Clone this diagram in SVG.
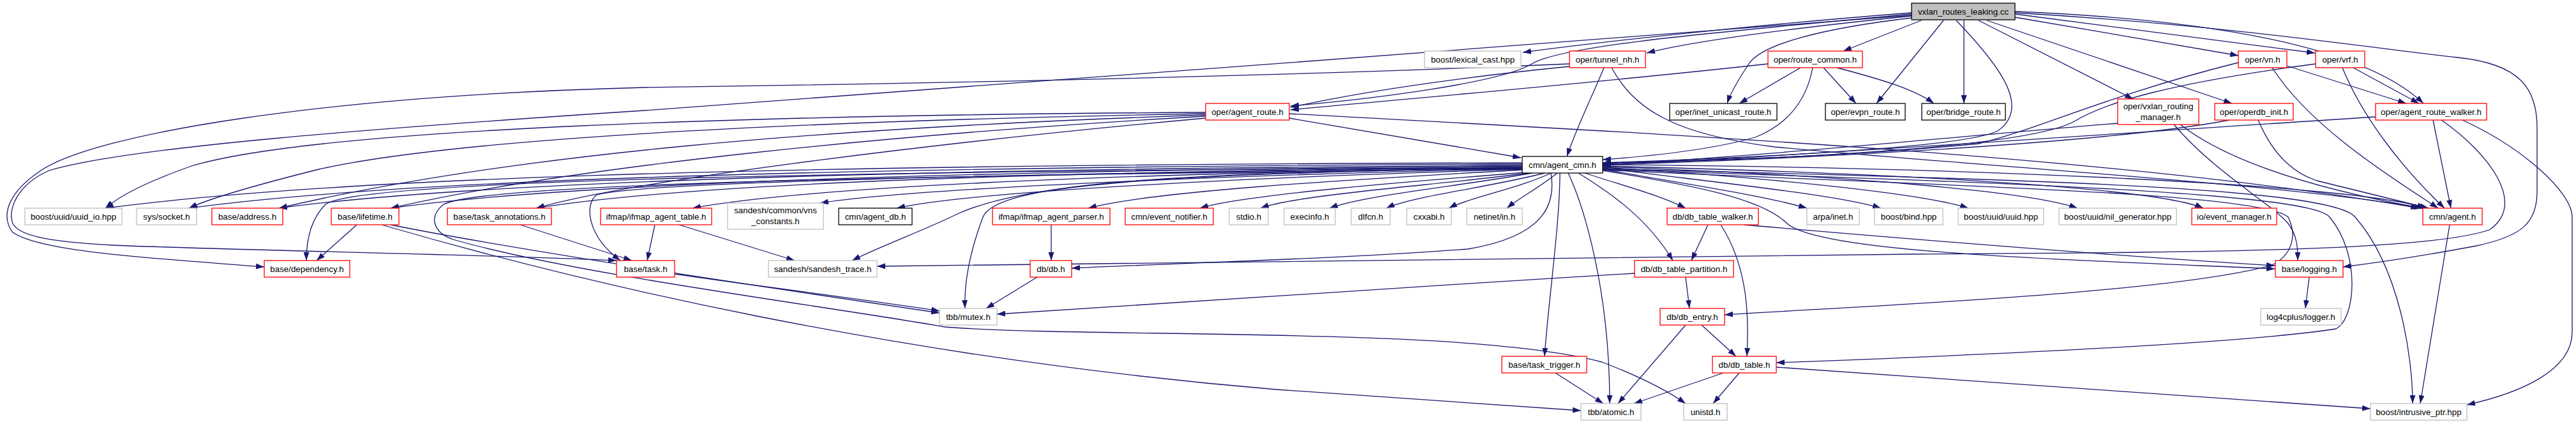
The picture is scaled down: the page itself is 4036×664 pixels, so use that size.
<svg xmlns="http://www.w3.org/2000/svg" width="4036" height="664" viewBox="0 0 4036 664">
<style>
rect{fill:#fff;stroke-width:1.3}
.r{stroke:#ff0000}
.g{stroke:#bfbfbf}
.b{stroke:#000}
.m{fill:#bfbfbf;stroke:#000}
text{font-family:"Liberation Sans",Arial,Helvetica,sans-serif;font-size:13.33px;text-anchor:middle;fill:#000}
#edges path{fill:none;stroke:#191970;stroke-width:1.3;marker-end:url(#a)}
</style>
<defs>
<marker id="a" viewBox="0 0 13 9" refX="13" refY="4.5" markerWidth="13" markerHeight="9" markerUnits="userSpaceOnUse" orient="auto"><path d="M0,0L13,4.5L0,9z" fill="#191970"/></marker>
</defs>
<g id="edges">
<path d="M2995,20 C2800,35 2550,60 2386,82"/>
<path d="M2995,22 C2700,50 2450,70 2400,100 C2350,130 2150,155 2022,166"/>
<path d="M2995,25 C2800,45 2650,65 2580,83"/>
<path d="M2995,28 C2850,45 2760,70 2740,100 C2720,130 2710,150 2706,162"/>
<path d="M3010,32 L2888,80"/>
<path d="M3045,32 L2940,162"/>
<path d="M3077,32 L3077,162"/>
<path d="M3065,32 C3140,110 3180,170 3130,205 C3080,230 2800,245 2511,255"/>
<path d="M3100,32 L3342,155"/>
<path d="M3113,32 L3497,162"/>
<path d="M3157,27 L3507,87"/>
<path d="M3157,22 L3627,83"/>
<path d="M3157,18 C3450,30 3700,70 3797,162"/>
<path d="M3157,20 C3500,40 3750,80 3850,90 C3950,100 3975,140 3975,200 L3975,300 C3975,350 3950,370 3880,385 C3800,400 3720,412 3671,418"/>
<path d="M2995,24 C2400,70 1600,130 1010,173 C600,200 200,230 77,267 C25,290 12,330 20,350 C30,370 80,380 200,385 C500,395 800,400 966,408"/>
<path d="M2459,100 C2000,120 1500,130 1010,137 C500,150 150,210 64,267 C15,300 0,335 19,363 C60,395 250,405 414,418"/>
<path d="M2459,104 C2300,120 2150,140 2022,168"/>
<path d="M2513,106 C2495,150 2470,200 2455,245"/>
<path d="M2525,106 C2560,170 2620,210 2780,230 C3100,260 3600,290 3795,326"/>
<path d="M2770,100 C2500,130 2200,155 2022,172"/>
<path d="M2821,106 L2725,162"/>
<path d="M2857,106 L2908,162"/>
<path d="M2878,106 C2950,125 3000,140 3030,162"/>
<path d="M2840,106 C2830,160 2800,195 2750,215 C2680,235 2580,245 2511,250"/>
<path d="M3507,98 C3300,150 3200,200 3100,225 C2900,245 2700,250 2511,255"/>
<path d="M3560,106 C3620,200 3750,280 3820,326"/>
<path d="M3583,103 L3770,162"/>
<path d="M3628,100 C3400,130 3300,160 3250,190 C3180,230 2800,250 2511,256"/>
<path d="M3670,106 C3700,180 3760,260 3830,326"/>
<path d="M3687,106 L3790,162"/>
<path d="M2020,185 L2383,247"/>
<path d="M2020,178 C2500,205 3300,240 3790,326"/>
<path d="M1889,176 C1200,180 500,200 300,260 C230,285 190,305 165,326"/>
<path d="M1889,178 C1200,190 700,220 500,265 C400,290 330,310 296,326"/>
<path d="M1889,180 C1300,200 800,240 437,326"/>
<path d="M1889,182 C1400,210 900,260 612,326"/>
<path d="M1889,185 C1500,220 1000,280 840,326"/>
<path d="M3318,193 C3000,220 2700,250 2511,257"/>
<path d="M3416,195 C3500,260 3650,300 3795,326"/>
<path d="M3406,195 C3470,270 3560,320 3585,350 C3600,370 3600,390 3600,408"/>
<path d="M3493,188 C3300,225 2800,250 2511,258"/>
<path d="M3538,188 C3560,240 3590,270 3630,283 C3700,300 3760,315 3805,326"/>
<path d="M3722,183 C3300,210 2800,245 2511,259"/>
<path d="M3812,188 L3840,326"/>
<path d="M3825,188 C3900,240 3960,320 3900,360 C3800,395 3400,395 3000,398 C2400,402 1800,410 1374,417"/>
<path d="M3858,188 C3950,230 4030,300 4030,340 L4030,520 C4030,580 3950,615 3865,634"/>
<path d="M2385,255 C1100,258 500,282 165,326"/>
<path d="M2385,257 C1200,262 600,285 296,326"/>
<path d="M2385,259 C1300,265 700,290 437,326"/>
<path d="M2385,260 C1400,268 850,292 612,326"/>
<path d="M2385,262 C1500,270 1050,292 840,326"/>
<path d="M2385,263 C1700,272 1250,295 1085,326"/>
<path d="M2385,264 C1900,275 1420,296 1285,318"/>
<path d="M2385,265 C1950,278 1520,300 1405,326"/>
<path d="M2385,266 C2100,282 1800,300 1705,326"/>
<path d="M2390,270 C2200,285 1950,305 1880,326"/>
<path d="M2395,271 C2250,290 2030,305 1975,326"/>
<path d="M2400,271 C2300,290 2140,305 2083,326"/>
<path d="M2420,271 C2340,292 2210,308 2172,326"/>
<path d="M2430,271 C2380,295 2300,310 2270,326"/>
<path d="M2440,271 C2410,295 2380,310 2361,326"/>
<path d="M2483,271 C2540,290 2600,305 2641,326"/>
<path d="M2511,265 C2620,285 2760,305 2831,326"/>
<path d="M2511,263 C2680,285 2880,305 2947,326"/>
<path d="M2511,262 C2800,280 3020,305 3084,326"/>
<path d="M2511,261 C2900,275 3180,300 3255,326"/>
<path d="M2511,260 C3000,272 3380,295 3452,326"/>
<path d="M2511,258 C3100,262 3700,290 3800,326"/>
<path d="M2385,262 C1400,268 560,280 510,320 C490,340 480,370 480,408"/>
<path d="M2385,262 C1600,272 1000,285 935,305 C915,320 920,370 972,408"/>
<path d="M2385,264 C1800,270 1560,290 1540,340 C1525,380 1510,430 1512,483"/>
<path d="M2385,263 C1800,272 1600,290 1500,335 C1450,360 1380,385 1335,408"/>
<path d="M2385,264 C1500,275 760,285 695,320 C670,340 680,365 710,375 C900,430 1300,480 1480,512 C1700,530 2300,510 2510,567 C2570,590 2610,610 2641,632"/>
<path d="M2430,271 C2438,320 2420,370 2300,390 C2100,405 1900,410 1679,420"/>
<path d="M2444,271 C2444,350 2425,480 2420,558"/>
<path d="M2457,271 C2480,320 2522,450 2522,632"/>
<path d="M2473,271 C2520,300 2580,340 2621,408"/>
<path d="M2511,266 C3000,290 3540,300 3585,340 C3600,370 3590,400 3560,415 C3400,460 2900,480 2702,493"/>
<path d="M2511,265 C3100,285 3620,300 3650,340 C3700,400 3690,500 3660,515 C3500,540 3000,560 2783,568"/>
<path d="M2511,264 C3100,280 3650,290 3690,340 C3760,420 3780,560 3780,632"/>
<path d="M2511,267 C2650,290 2760,310 2800,350 C2850,395 3200,405 3564,421"/>
<path d="M2676,352 L2650,408"/>
<path d="M2696,352 C2740,420 2740,500 2737,558"/>
<path d="M2732,352 C3000,375 3300,400 3564,416"/>
<path d="M2641,434 L2647,483"/>
<path d="M2561,428 C2200,450 1800,475 1562,492"/>
<path d="M2641,509 L2535,632"/>
<path d="M2666,509 L2720,558"/>
<path d="M2700,584 L2560,632"/>
<path d="M2725,584 L2684,632"/>
<path d="M2783,575 C3100,595 3400,620 3714,640"/>
<path d="M2437,584 L2512,632"/>
<path d="M3618,434 L3612,483"/>
<path d="M3838,352 L3792,632"/>
<path d="M559,352 L496,408"/>
<path d="M612,352 C800,390 1200,450 1472,490"/>
<path d="M598,352 C900,440 1400,560 2000,610 C2200,625 2350,635 2477,643"/>
<path d="M815,352 L990,408"/>
<path d="M1026,352 L1014,408"/>
<path d="M1064,352 L1245,408"/>
<path d="M1057,429 C1200,450 1400,475 1472,487"/>
<path d="M1647,352 L1647,408"/>
<path d="M1625,434 L1545,483"/>
</g>
<g id="n-vxlan_routes_leaking"><rect class="m" x="2995" y="5" width="162" height="26"/><text x="3076" y="22.5">vxlan_routes_leaking.cc</text></g>
<g id="n-lexical_cast"><rect class="g" x="2232" y="80" width="151" height="26"/><text x="2307.5" y="97.5">boost/lexical_cast.hpp</text></g>
<g id="n-tunnel_nh"><rect class="r" x="2459" y="80" width="119" height="26"/><text x="2518.5" y="97.5">oper/tunnel_nh.h</text></g>
<g id="n-route_common"><rect class="r" x="2770" y="80" width="148" height="26"/><text x="2844" y="97.5">oper/route_common.h</text></g>
<g id="n-vn"><rect class="r" x="3507" y="80" width="76" height="26"/><text x="3545" y="97.5">oper/vn.h</text></g>
<g id="n-vrf"><rect class="r" x="3628" y="80" width="77" height="26"/><text x="3666.5" y="97.5">oper/vrf.h</text></g>
<g id="n-agent_route"><rect class="r" x="1889" y="162" width="131" height="26"/><text x="1954.5" y="179.5">oper/agent_route.h</text></g>
<g id="n-inet_unicast_route"><rect class="b" x="2616" y="162" width="168" height="26"/><text x="2700" y="179.5">oper/inet_unicast_route.h</text></g>
<g id="n-evpn_route"><rect class="b" x="2860" y="162" width="125" height="26"/><text x="2922.5" y="179.5">oper/evpn_route.h</text></g>
<g id="n-bridge_route"><rect class="b" x="3011" y="162" width="131" height="26"/><text x="3076.5" y="179.5">oper/bridge_route.h</text></g>
<g id="n-vxlan_routing_manager"><rect class="r" x="3318" y="155" width="127" height="40"/><text x="3381.5" y="171">oper/vxlan_routing</text><text x="3381.5" y="188">_manager.h</text></g>
<g id="n-operdb_init"><rect class="r" x="3470" y="162" width="123" height="26"/><text x="3531.5" y="179.5">oper/operdb_init.h</text></g>
<g id="n-agent_route_walker"><rect class="r" x="3722" y="162" width="174" height="26"/><text x="3809" y="179.5">oper/agent_route_walker.h</text></g>
<g id="n-agent_cmn"><rect class="b" x="2385" y="245" width="126" height="26"/><text x="2448" y="262.5">cmn/agent_cmn.h</text></g>
<g id="n-uuid_io"><rect class="g" x="39" y="326" width="152" height="26"/><text x="115" y="343.5">boost/uuid/uuid_io.hpp</text></g>
<g id="n-socket"><rect class="g" x="214" y="326" width="94" height="26"/><text x="261" y="343.5">sys/socket.h</text></g>
<g id="n-address"><rect class="r" x="332" y="326" width="111" height="26"/><text x="387.5" y="343.5">base/address.h</text></g>
<g id="n-lifetime"><rect class="r" x="519" y="326" width="106" height="26"/><text x="572" y="343.5">base/lifetime.h</text></g>
<g id="n-task_annotations"><rect class="r" x="701" y="326" width="163" height="26"/><text x="782.5" y="343.5">base/task_annotations.h</text></g>
<g id="n-ifmap_agent_table"><rect class="r" x="941" y="326" width="174" height="26"/><text x="1028" y="343.5">ifmap/ifmap_agent_table.h</text></g>
<g id="n-vns_constants"><rect class="g" x="1140" y="318" width="150" height="41"/><text x="1215" y="334">sandesh/common/vns</text><text x="1215" y="351">_constants.h</text></g>
<g id="n-agent_db"><rect class="b" x="1314" y="326" width="115" height="26"/><text x="1371.5" y="343.5">cmn/agent_db.h</text></g>
<g id="n-ifmap_agent_parser"><rect class="r" x="1555" y="326" width="184" height="26"/><text x="1647" y="343.5">ifmap/ifmap_agent_parser.h</text></g>
<g id="n-event_notifier"><rect class="r" x="1763" y="326" width="138" height="26"/><text x="1832" y="343.5">cmn/event_notifier.h</text></g>
<g id="n-stdio"><rect class="g" x="1926" y="326" width="61" height="26"/><text x="1956.5" y="343.5">stdio.h</text></g>
<g id="n-execinfo"><rect class="g" x="2012" y="326" width="80" height="26"/><text x="2052" y="343.5">execinfo.h</text></g>
<g id="n-dlfcn"><rect class="g" x="2117" y="326" width="61" height="26"/><text x="2147.5" y="343.5">dlfcn.h</text></g>
<g id="n-cxxabi"><rect class="g" x="2204" y="326" width="70" height="26"/><text x="2239" y="343.5">cxxabi.h</text></g>
<g id="n-netinet_in"><rect class="g" x="2298" y="326" width="87" height="26"/><text x="2341.5" y="343.5">netinet/in.h</text></g>
<g id="n-db_table_walker"><rect class="r" x="2612" y="326" width="143" height="26"/><text x="2683.5" y="343.5">db/db_table_walker.h</text></g>
<g id="n-arpa_inet"><rect class="g" x="2831" y="326" width="82" height="26"/><text x="2872" y="343.5">arpa/inet.h</text></g>
<g id="n-bind"><rect class="g" x="2937" y="326" width="107" height="26"/><text x="2990.5" y="343.5">boost/bind.hpp</text></g>
<g id="n-uuid"><rect class="g" x="3068" y="326" width="134" height="26"/><text x="3135" y="343.5">boost/uuid/uuid.hpp</text></g>
<g id="n-nil_generator"><rect class="g" x="3226" y="326" width="184" height="26"/><text x="3318" y="343.5">boost/uuid/nil_generator.hpp</text></g>
<g id="n-event_manager"><rect class="r" x="3434" y="326" width="133" height="26"/><text x="3500.5" y="343.5">io/event_manager.h</text></g>
<g id="n-agent"><rect class="r" x="3796" y="326" width="93" height="26"/><text x="3842.5" y="343.5">cmn/agent.h</text></g>
<g id="n-dependency"><rect class="r" x="414" y="408" width="134" height="26"/><text x="481" y="425.5">base/dependency.h</text></g>
<g id="n-task"><rect class="r" x="966" y="408" width="91" height="26"/><text x="1011.5" y="425.5">base/task.h</text></g>
<g id="n-sandesh_trace"><rect class="g" x="1204" y="408" width="170" height="26"/><text x="1289" y="425.5">sandesh/sandesh_trace.h</text></g>
<g id="n-db"><rect class="r" x="1614" y="408" width="65" height="26"/><text x="1646.5" y="425.5">db/db.h</text></g>
<g id="n-db_table_partition"><rect class="r" x="2561" y="408" width="155" height="26"/><text x="2638.5" y="425.5">db/db_table_partition.h</text></g>
<g id="n-logging"><rect class="r" x="3565" y="408" width="106" height="26"/><text x="3618" y="425.5">base/logging.h</text></g>
<g id="n-mutex"><rect class="g" x="1472" y="483" width="90" height="26"/><text x="1517" y="500.5">tbb/mutex.h</text></g>
<g id="n-db_entry"><rect class="r" x="2601" y="483" width="101" height="26"/><text x="2651.5" y="500.5">db/db_entry.h</text></g>
<g id="n-logger"><rect class="g" x="3542" y="483" width="126" height="26"/><text x="3605" y="500.5">log4cplus/logger.h</text></g>
<g id="n-task_trigger"><rect class="r" x="2353" y="558" width="133" height="26"/><text x="2419.5" y="575.5">base/task_trigger.h</text></g>
<g id="n-db_table"><rect class="r" x="2683" y="558" width="100" height="26"/><text x="2733" y="575.5">db/db_table.h</text></g>
<g id="n-atomic"><rect class="g" x="2477" y="632" width="94" height="26"/><text x="2524" y="649.5">tbb/atomic.h</text></g>
<g id="n-unistd"><rect class="g" x="2638" y="632" width="68" height="26"/><text x="2672" y="649.5">unistd.h</text></g>
<g id="n-intrusive_ptr"><rect class="g" x="3714" y="632" width="151" height="26"/><text x="3789.5" y="649.5">boost/intrusive_ptr.hpp</text></g>
</svg>
